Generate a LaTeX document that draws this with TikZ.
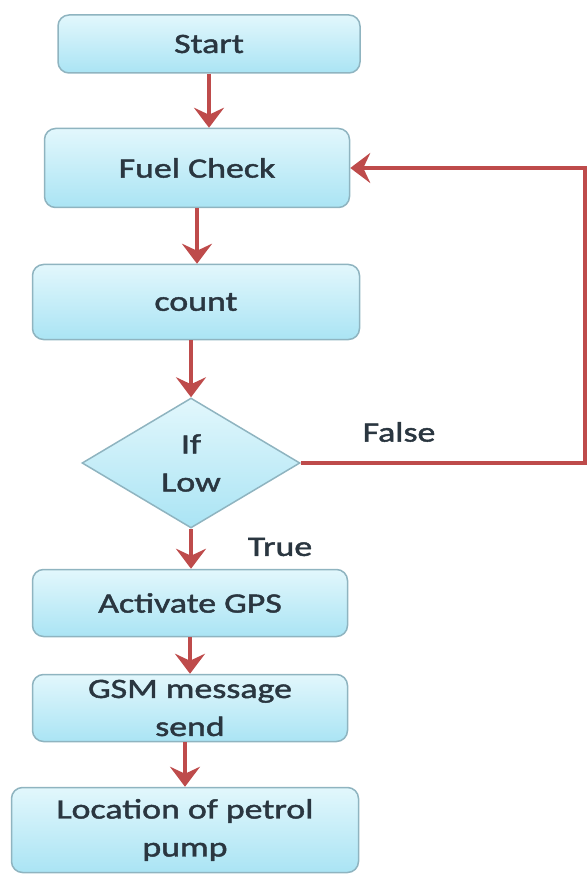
\documentclass[tikz,border=0pt]{standalone}
\usepackage{fontspec}
\setmainfont{Carlito}[FakeStretch=1.28,FakeBold=1.6]
\usetikzlibrary{arrows.meta,shapes.geometric}

\definecolor{boxtop}{HTML}{E2F7FC}
\definecolor{boxbot}{HTML}{AAE4F4}
\definecolor{boxline}{HTML}{8FB4C0}
\definecolor{flowred}{HTML}{BE4B4B}
\definecolor{txt}{HTML}{2A3640}

\begin{document}
\begin{tikzpicture}[x=1pt,y=-1pt,
  every node/.style={font=\fontsize{28}{38}\selectfont, text=txt},
  stepbox/.style={draw=boxline, line width=1.5pt, rounded corners=11pt,
    top color=boxtop, bottom color=boxbot, align=center, inner sep=0pt},
  test/.style={diamond, draw=boxline, line width=1.5pt, top color=boxtop,
    bottom color=boxbot, align=center, inner sep=0pt, aspect=1.68,
    minimum width=218pt, minimum height=130pt},
  flow/.style={draw=flowred, line width=4pt,
    -{Stealth[length=20pt,width=30pt,inset=7pt]}}]
\useasboundingbox (0,0) rectangle (587,874);
\node[stepbox, minimum width=302pt, minimum height=58pt] (Start) at (209,44) {Start};
\node[stepbox, minimum width=305pt, minimum height=79pt] (Fuel) at (197,168) {Fuel Check};
\node[stepbox, minimum width=327pt, minimum height=75pt] (Count) at (196,302) {count};
\node[test] (Low) at (191,463) {If\\Low};
\node[stepbox, minimum width=315pt, minimum height=67pt] (Gps) at (190,603) {Activate GPS};
\node[stepbox, minimum width=315pt, minimum height=67pt] (Gsm) at (190,708) {GSM message\\send};
\node[stepbox, minimum width=347pt, minimum height=85pt] (Loc) at (185,830) {Location of petrol\\pump};
\node (True) at (280,547) {True};
\node (False) at (399,432) {False};
\coordinate (Rt) at (585,0);
\draw[flow] (Start.south) -- (Start.south |- Fuel.north);
\draw[flow] (Fuel.south) -- (Fuel.south |- Count.north);
\draw[flow] (Count.south -| Low.north) -- (Low.north);
\draw[flow] (Low.south) -- (Low.south |- Gps.north);
\draw[flow] (Gps.south) -- (Gps.south |- Gsm.north);
\draw[flow] (Gsm.south -| Loc.north) -- (Loc.north);
\draw[flow] (Low.east) -- (Low.east -| Rt) |- (Fuel.east);
\end{tikzpicture}
\end{document}
